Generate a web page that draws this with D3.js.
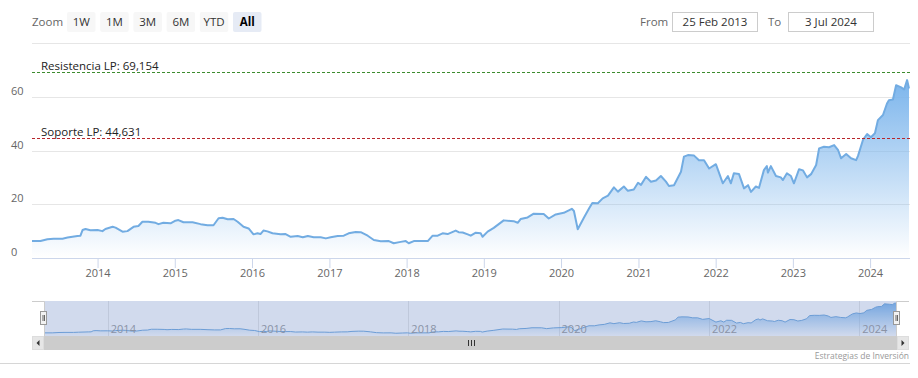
<!DOCTYPE html>
<html>
<head>
<meta charset="utf-8">
<script src="https://cdn.jsdelivr.net/npm/d3@7"></script>
<style>
body{margin:0;background:#fff;}
svg{display:block;font-family:"Open Sans",sans-serif;}
</style>
</head>
<body>
<svg id="chart" width="918" height="378"></svg>
<script>
// price series
var dates = [
"2013-02-25","2013-04-06","2013-05-09","2013-06-07","2013-07-19","2013-08-12","2013-09-28","2013-10-12","2013-10-22","2013-11-05","2013-11-28",
"2014-01-01","2014-01-24","2014-02-07","2014-03-13","2014-03-27","2014-04-29","2014-05-22","2014-06-20","2014-07-13","2014-08-01","2014-08-29","2014-10-02","2014-10-16","2014-11-08","2014-12-12",
"2015-01-04","2015-01-18","2015-02-11","2015-03-26","2015-05-03","2015-06-05","2015-07-03","2015-07-27","2015-08-15","2015-09-08","2015-10-06","2015-10-25","2015-11-22","2015-12-16",
"2016-01-08","2016-01-27","2016-02-10","2016-02-24","2016-03-14","2016-04-07","2016-05-15","2016-06-08","2016-07-02","2016-08-04","2016-08-28","2016-09-21","2016-10-19","2016-11-21","2016-12-15",
"2017-01-07","2017-02-09","2017-03-10","2017-04-02","2017-05-05","2017-05-29","2017-07-01","2017-07-30","2017-09-01","2017-10-09","2017-11-01","2017-12-04","2017-12-28",
"2018-01-11","2018-02-04","2018-04-11","2018-05-04","2018-05-28","2018-06-20","2018-07-14","2018-08-21","2018-09-04","2018-09-23","2018-10-17","2018-10-31","2018-11-24","2018-12-17","2018-12-26",
"2019-01-19","2019-02-17","2019-04-05","2019-05-22","2019-06-10","2019-06-24","2019-07-27","2019-08-25","2019-10-11","2019-11-04","2019-12-07",
"2020-01-14","2020-02-21","2020-03-02","2020-03-20","2020-04-18","2020-05-13","2020-05-28","2020-06-23","2020-07-16","2020-08-10","2020-09-07","2020-09-26","2020-10-24","2020-11-12","2020-12-10","2020-12-30",
"2021-01-13","2021-02-06","2021-03-01","2021-03-25","2021-04-17","2021-05-11","2021-05-25","2021-06-18","2021-07-21","2021-08-04","2021-08-23","2021-09-21","2021-10-14","2021-11-07","2021-12-01",
"2022-01-02","2022-02-04","2022-02-28","2022-03-14","2022-03-28","2022-04-21","2022-05-15","2022-06-03","2022-06-17","2022-07-10","2022-07-25","2022-08-17","2022-08-31","2022-09-05","2022-09-19","2022-10-13","2022-11-05","2022-11-15","2022-12-04","2022-12-23",
"2023-01-06","2023-01-30","2023-02-18","2023-03-09","2023-03-28","2023-04-21","2023-05-05","2023-05-28","2023-06-21","2023-07-15","2023-08-03","2023-08-17","2023-09-10","2023-10-03","2023-10-27","2023-11-05","2023-11-29","2023-12-18",
"2024-01-05","2024-01-24","2024-02-07","2024-03-02","2024-03-21","2024-03-30","2024-04-18","2024-05-03","2024-05-27","2024-06-10","2024-06-24","2024-07-03"
];
var closes = [
6.3,6.3,7.0,7.2,7.2,7.6,8.2,8.3,10.4,10.8,10.3,
10.4,10.0,10.8,11.6,11.3,9.8,10.0,11.6,11.9,13.5,13.5,13.1,12.6,13.1,12.9,
13.9,14.1,13.3,13.3,12.6,12.2,12.2,14.8,15.0,14.4,14.5,13.5,11.6,11.0,
8.8,9.2,8.9,10.2,9.9,9.2,8.8,8.9,7.9,8.2,7.7,8.2,7.7,7.7,7.3,
7.7,8.2,8.3,9.2,9.7,9.6,8.3,6.7,6.2,6.3,5.5,6.0,6.3,
5.5,6.3,6.3,8.3,8.3,9.2,8.9,10.2,9.6,9.5,8.8,8.3,9.4,9.2,7.9,
9.8,11.2,14.0,13.7,13.1,14.5,15.1,16.5,16.4,14.7,16.2,
16.8,18.3,17.5,10.7,15.0,18.5,20.5,20.4,22.2,23.2,26.3,24.7,26.6,25.0,25.5,28.0,
27.2,30.2,28.4,28.8,30.5,28.4,26.8,27.1,32.1,37.7,38.3,38.1,36.4,36.4,33.3,
34.9,27.8,30.5,27.8,31.5,31.3,25.9,27.1,24.6,26.6,26.1,32.7,34.2,31.8,34.2,30.5,30.0,29.0,31.5,30.5,
27.8,33.0,32.6,30.0,31.2,34.6,40.8,41.4,41.2,42.0,40.1,37.1,38.7,37.1,36.4,38.0,44.1,46.1,
44.9,46.4,51.3,53.2,57.5,58.7,59.0,64.3,63.5,62.7,66.2,63.1
];
var yTicks = [0, 20, 40, 60, 80];
var levelNames = ["Resistencia LP: 69,154", "Soporte LP: 44,631"];
var levelValues = [69.154, 44.631];
var levelColors = ["#3d8c2f", "#b8262b"];
var zoomButtons = ["1W", "1M", "3M", "6M", "YTD", "All"];
var fromLabel = "25 Feb 2013", toLabel = "3 Jul 2024";

var parse = d3.timeParse("%Y-%m-%d");
var pts = dates.map(function(d, i){ return {date: parse(d), v: closes[i]}; });
var start = parse("2013-02-25"), end = parse("2024-07-03");

var svg = d3.select("#chart");
var defs = svg.append("defs");

var x = d3.scaleTime().domain([start, end]).range([32, 909]);
var y = d3.scaleLinear().domain([0, 80]).range([258, 43]);
var maxV = d3.max(closes);

// gradient for the main area
var g1 = defs.append("linearGradient").attr("id", "areaFill")
  .attr("gradientUnits", "userSpaceOnUse")
  .attr("x1", 0).attr("x2", 0).attr("y1", y(maxV)).attr("y2", y(0));
g1.append("stop").attr("offset", 0).attr("stop-color", "#7cb5ec").attr("stop-opacity", 1);
g1.append("stop").attr("offset", 1).attr("stop-color", "#7cb5ec").attr("stop-opacity", 0);

// grid
svg.append("g").selectAll("line").data(yTicks.filter(function(t){ return t > 0; }))
  .enter().append("line")
  .attr("x1", 32).attr("x2", 910)
  .attr("y1", function(d){ return Math.round(y(d)) + 0.5; })
  .attr("y2", function(d){ return Math.round(y(d)) + 0.5; })
  .attr("stroke", "#e6e6e6");

svg.append("g").selectAll("text").data(yTicks.filter(function(t){ return t < 80; }))
  .enter().append("text")
  .attr("x", 11).attr("y", function(d){ return y(d) - 2; })
  .attr("font-size", 11).attr("fill", "#666")
  .text(function(d){ return d; });

// area + line
var area = d3.area().x(function(d){ return x(d.date); }).y0(y(0)).y1(function(d){ return y(d.v); });
var line = d3.line().x(function(d){ return x(d.date); }).y(function(d){ return y(d.v); });
svg.append("path").datum(pts).attr("d", area).attr("fill", "url(#areaFill)");
svg.append("path").datum(pts).attr("d", line).attr("fill", "none")
  .attr("stroke", "#72acE2").attr("stroke-width", 2).attr("stroke-linejoin", "round");

// x axis
var xAxis = svg.append("g").attr("transform", "translate(0,258)")
  .call(d3.axisBottom(x).ticks(d3.timeYear.every(1)).tickFormat(d3.timeFormat("%Y")).tickSize(10));
xAxis.select(".domain").remove();
xAxis.selectAll(".tick line").attr("stroke", "#ccd6eb");
xAxis.selectAll(".tick text").attr("y", 19).attr("dy", 0)
  .attr("font-size", 11).attr("fill", "#666").attr("font-family", "Open Sans");
svg.append("line").attr("x1", 32).attr("x2", 910).attr("y1", 258.5).attr("y2", 258.5).attr("stroke", "#ccd6eb");

// plot lines
levelValues.forEach(function(v, i){
  var yy = Math.round(y(v)) + 0.5;
  svg.append("line").attr("x1", 32).attr("x2", 910).attr("y1", yy).attr("y2", yy)
    .attr("stroke", levelColors[i]).attr("stroke-dasharray", "3,2");
  svg.append("text").attr("x", 41).attr("y", yy - 2.5)
    .attr("font-size", 11.5).attr("fill", "#222").text(levelNames[i]);
});

// range selector
svg.append("text").attr("x", 32).attr("y", 26).attr("font-size", 11.5).attr("fill", "#666").text("Zoom");
var btn = svg.append("g").selectAll("g").data(zoomButtons).enter().append("g")
  .attr("transform", function(d, i){ return "translate(" + (67 + i * 33.2) + ",12)"; });
btn.append("rect").attr("width", 28.5).attr("height", 20).attr("rx", 2)
  .attr("fill", function(d){ return d === "All" ? "#e6ebf5" : "#f7f7f7"; });
btn.append("text").attr("x", 14.25).attr("y", 14).attr("text-anchor", "middle")
  .attr("font-size", 11.5)
  .attr("font-weight", function(d){ return d === "All" ? "bold" : "normal"; })
  .attr("fill", function(d){ return d === "All" ? "#000" : "#333"; })
  .text(function(d){ return d; });

svg.append("text").attr("x", 640).attr("y", 26).attr("font-size", 11.5).attr("fill", "#666").text("From");
svg.append("rect").attr("x", 672.5).attr("y", 12.5).attr("width", 85).attr("height", 19)
  .attr("fill", "#fff").attr("stroke", "#ccc");
svg.append("text").attr("x", 715).attr("y", 26).attr("text-anchor", "middle").attr("font-size", 11.5).attr("fill", "#333").text(fromLabel);
svg.append("text").attr("x", 768).attr("y", 26).attr("font-size", 11.5).attr("fill", "#666").text("To");
svg.append("rect").attr("x", 788.5).attr("y", 12.5).attr("width", 85).attr("height", 19)
  .attr("fill", "#fff").attr("stroke", "#ccc");
svg.append("text").attr("x", 831).attr("y", 26).attr("text-anchor", "middle").attr("font-size", 11.5).attr("fill", "#333").text(toLabel);

// navigator
var nTop = 301, nBot = 336, nL = 44, nR = 897;
var xn = d3.scaleTime().domain([start, end]).range([nL, nR]);
var yn = d3.scaleLinear().domain([0, 70]).range([nBot, nTop]);
var g2 = defs.append("linearGradient").attr("id", "navFill")
  .attr("gradientUnits", "userSpaceOnUse")
  .attr("x1", 0).attr("x2", 0).attr("y1", yn(maxV)).attr("y2", yn(0));
g2.append("stop").attr("offset", 0).attr("stop-color", "#7cb5ec").attr("stop-opacity", 1);
g2.append("stop").attr("offset", 1).attr("stop-color", "#7cb5ec").attr("stop-opacity", 0);

var navTicks = xn.ticks(d3.timeYear.every(2));
svg.append("g").selectAll("line").data(navTicks).enter().append("line")
  .attr("x1", function(d){ return Math.round(xn(d)) + 0.5; })
  .attr("x2", function(d){ return Math.round(xn(d)) + 0.5; })
  .attr("y1", nTop).attr("y2", nBot).attr("stroke", "#e6e6e6");
var navArea = d3.area().x(function(d){ return xn(d.date); }).y0(nBot).y1(function(d){ return yn(d.v); });
var navLine = d3.line().x(function(d){ return xn(d.date); }).y(function(d){ return yn(d.v); });
svg.append("path").datum(pts).attr("d", navArea).attr("fill", "url(#navFill)");
svg.append("path").datum(pts).attr("d", navLine).attr("fill", "none").attr("stroke", "#6fa8de").attr("stroke-width", 1);
svg.append("g").selectAll("text").data(navTicks).enter().append("text")
  .attr("x", function(d){ return xn(d) + 3; }).attr("y", 333)
  .attr("font-size", 11).attr("fill", "#999")
  .text(d3.timeFormat("%Y"));
svg.append("rect").attr("x", nL).attr("y", nTop).attr("width", nR - nL).attr("height", nBot - nTop)
  .attr("fill", "rgba(102,133,194,0.3)");
svg.append("path")
  .attr("d", "M32," + (nTop + 0.5) + "L" + (nL + 0.5) + "," + (nTop + 0.5) + "L" + (nL + 0.5) + "," + nBot +
             "M" + (nR - 0.5) + "," + nBot + "L" + (nR - 0.5) + "," + (nTop + 0.5) + "L909," + (nTop + 0.5))
  .attr("fill", "none").attr("stroke", "#ccc");

// handles
[nL, nR].forEach(function(hx){
  var h = svg.append("g").attr("transform", "translate(" + (Math.round(hx) - 3.5) + ",311.5)");
  h.append("rect").attr("width", 6).attr("height", 13).attr("fill", "#f2f2f2").attr("stroke", "#999");
  h.append("path").attr("d", "M2.5,3.5V9.5M4,3.5V9.5").attr("stroke", "#666").attr("stroke-width", 1);
});

// scrollbar
var sTop = 336, sH = 14;
svg.append("rect").attr("x", 32).attr("y", sTop).attr("width", 877).attr("height", sH).attr("fill", "#f2f2f2");
svg.append("rect").attr("x", nL).attr("y", sTop).attr("width", nR - nL).attr("height", sH).attr("fill", "#cccccc");
[[32, -1], [nR, 1]].forEach(function(b){
  svg.append("rect").attr("x", b[0] + 0.5).attr("y", sTop + 0.5).attr("width", 11).attr("height", sH - 1)
    .attr("fill", "#e6e6e6").attr("stroke", "#ddd");
  var cx = b[0] + 6, cy = sTop + 7;
  svg.append("path").attr("d", b[1] < 0
      ? "M" + (cx + 1.5) + "," + (cy - 3) + "L" + (cx - 1.5) + "," + cy + "L" + (cx + 1.5) + "," + (cy + 3) + "Z"
      : "M" + (cx - 1.5) + "," + (cy - 3) + "L" + (cx + 1.5) + "," + cy + "L" + (cx - 1.5) + "," + (cy + 3) + "Z")
    .attr("fill", "#333");
});
var gx = Math.round((nL + nR) / 2);
svg.append("path")
  .attr("d", "M" + (gx - 2.5) + "," + (sTop + 4) + "V" + (sTop + 10) + "M" + (gx + 0.5) + "," + (sTop + 4) + "V" + (sTop + 10) +
             "M" + (gx + 3.5) + "," + (sTop + 4) + "V" + (sTop + 10))
  .attr("stroke", "#333").attr("stroke-width", 1);

// credits + bottom border
svg.append("text").attr("x", 909).attr("y", 359).attr("text-anchor", "end")
  .attr("font-size", 8.5).attr("fill", "#999").text("Estrategias de Inversión");
svg.append("line").attr("x1", 0).attr("x2", 910).attr("y1", 363.5).attr("y2", 363.5).attr("stroke", "#d6d6d6");
</script>
</body>
</html>
